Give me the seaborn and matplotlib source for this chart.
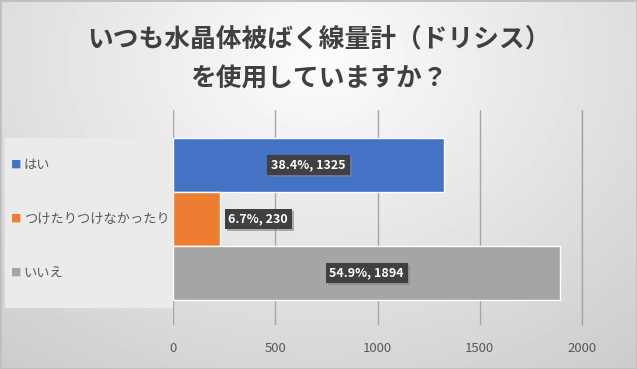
import numpy as np
import pandas as pd
import matplotlib.pyplot as plt
import matplotlib.patheffects as pe
import seaborn as sns

sns.set_style('white')
plt.rcParams['font.family'] = ['Noto Sans CJK JP', 'DejaVu Sans']

# chart data
answers = ['はい', 'つけたりつけなかったり', 'いいえ']
counts = [1325, 230, 1894]
shares = ['38.4%', '6.7%', '54.9%']
colors = ['#4472c4', '#ed7d31', '#a5a5a5']
title = 'いつも水晶体被ばく線量計（ドリシス）\nを使用していますか？'

df = pd.DataFrame({'answer': answers, 'count': counts})

fig = plt.figure(figsize=(6.37, 3.69), dpi=100)

# gradient background
bg = fig.add_axes([0, 0, 1, 1], zorder=-5)
yy, xx = np.mgrid[0:369, 0:637]
r = np.sqrt(((xx - 318) / 420.0) ** 2 + ((yy - 60) / 330.0) ** 2)
shade = np.clip(0.99 - 0.16 * r, 0.80, 0.99)
bg.imshow(shade, cmap='gray', vmin=0, vmax=1, aspect='auto', extent=[0, 1, 0, 1])
bg.add_patch(plt.Rectangle((0.008, 0.169), 0.262, 0.458, color='#ebebeb', zorder=2))
bg.add_patch(plt.Rectangle((0, 0), 1, 1, fill=False, edgecolor='#bfbfbf', lw=2, zorder=3))
bg.set_axis_off()

ax = fig.add_axes([173 / 637, 44 / 369, 409 / 637, 215 / 369])
ax.patch.set_alpha(0)
sns.barplot(data=df, y='answer', x='count', hue='answer', palette=colors,
            order=answers, hue_order=answers, width=1.0, dodge=False,
            legend=False, saturation=1, ax=ax)

ax.set_xlim(0, 2000)
ax.set_ylim(2.96, -1.02)
ax.set_xticks([0, 500, 1000, 1500, 2000])
ax.xaxis.grid(True, color='#a6a6a6', lw=1)
ax.set_axisbelow(True)
for sp in ax.spines.values():
    sp.set_visible(False)
ax.tick_params(axis='x', length=0, pad=12, labelsize=9.5, labelcolor='#595959')
ax.set_yticks([])
ax.set_xlabel('')
ax.set_ylabel('')
ax.axvline(2000, color='#a6a6a6', lw=1, zorder=0, clip_on=False)

# category labels at the left, like the Excel legend
for i, (name, col) in enumerate(zip(answers, colors)):
    ax.annotate('■', xy=(0, i), xycoords=('figure fraction', 'data'),
                xytext=(8, 0), textcoords='offset points',
                ha='left', va='center', color=col, fontsize=7.5)
    ax.annotate(name, xy=(0, i), xycoords=('figure fraction', 'data'),
                xytext=(17, 0), textcoords='offset points',
                ha='left', va='center', color='#595959', fontsize=9.5)

# data labels
shadow = [pe.SimplePatchShadow(offset=(1.5, -1.5), shadow_rgbFace='#808080', alpha=0.6), pe.Normal()]
for i, (c, s) in enumerate(zip(counts, shares)):
    if c > 500:
        t = ax.text(c / 2, i, f'{s}, {c}', ha='center', va='center', color='white',
                    fontsize=9, fontweight='bold',
                    bbox=dict(boxstyle='square,pad=0.3', fc='#404040', ec='none'))
    else:
        t = ax.annotate(f'{s}, {c}', xy=(c, i), xytext=(6, 0), textcoords='offset points',
                        ha='left', va='center', color='white', fontsize=9, fontweight='bold',
                        bbox=dict(boxstyle='square,pad=0.3', fc='#404040', ec='none'))
    t.get_bbox_patch().set_path_effects(shadow)

fig.text(0.5, 0.84, title, ha='center', va='center', fontsize=18.5, fontweight='bold',
         color='#404040', linespacing=1.6)

fig.savefig('out.png', dpi=100)
